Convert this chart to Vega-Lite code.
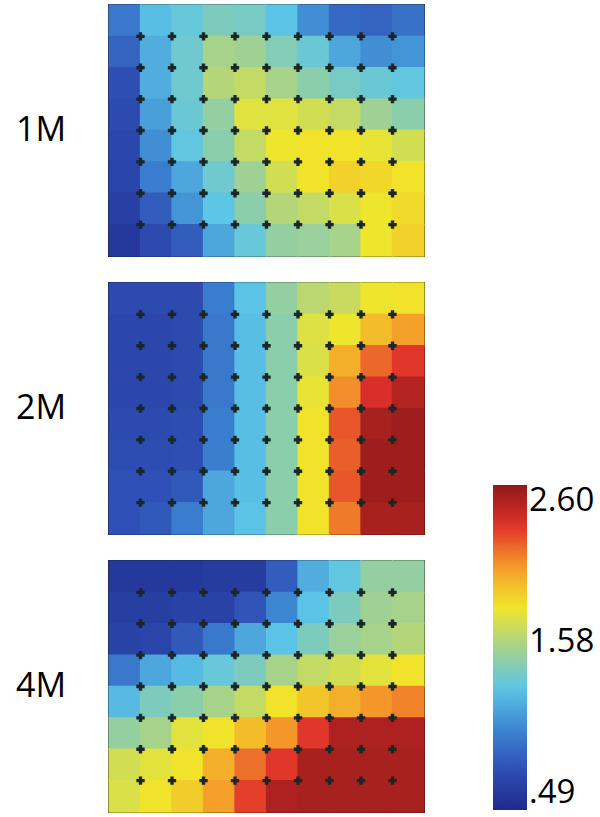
{
"$schema": "https://vega.github.io/schema/vega-lite/v6.json",
"padding": {"left": 15, "top": 3, "right": 0, "bottom": 0},
"background": "white",
"data": {"values": [
{"p":"1M","r":0,"c":0,"v":0.95},{"p":"1M","r":0,"c":1,"v":1.25},{"p":"1M","r":0,"c":2,"v":1.32},{"p":"1M","r":0,"c":3,"v":1.40},{"p":"1M","r":0,"c":4,"v":1.38},{"p":"1M","r":0,"c":5,"v":1.27},{"p":"1M","r":0,"c":6,"v":1.05},{"p":"1M","r":0,"c":7,"v":0.88},{"p":"1M","r":0,"c":8,"v":0.85},{"p":"1M","r":0,"c":9,"v":0.92},
{"p":"1M","r":1,"c":0,"v":0.85},{"p":"1M","r":1,"c":1,"v":1.18},{"p":"1M","r":1,"c":2,"v":1.35},{"p":"1M","r":1,"c":3,"v":1.55},{"p":"1M","r":1,"c":4,"v":1.52},{"p":"1M","r":1,"c":5,"v":1.42},{"p":"1M","r":1,"c":6,"v":1.33},{"p":"1M","r":1,"c":7,"v":1.15},{"p":"1M","r":1,"c":8,"v":1.05},{"p":"1M","r":1,"c":9,"v":1.08},
{"p":"1M","r":2,"c":0,"v":0.75},{"p":"1M","r":2,"c":1,"v":1.18},{"p":"1M","r":2,"c":2,"v":1.35},{"p":"1M","r":2,"c":3,"v":1.60},{"p":"1M","r":2,"c":4,"v":1.65},{"p":"1M","r":2,"c":5,"v":1.55},{"p":"1M","r":2,"c":6,"v":1.45},{"p":"1M","r":2,"c":7,"v":1.38},{"p":"1M","r":2,"c":8,"v":1.33},{"p":"1M","r":2,"c":9,"v":1.30},
{"p":"1M","r":3,"c":0,"v":0.72},{"p":"1M","r":3,"c":1,"v":1.12},{"p":"1M","r":3,"c":2,"v":1.33},{"p":"1M","r":3,"c":3,"v":1.48},{"p":"1M","r":3,"c":4,"v":1.75},{"p":"1M","r":3,"c":5,"v":1.75},{"p":"1M","r":3,"c":6,"v":1.70},{"p":"1M","r":3,"c":7,"v":1.65},{"p":"1M","r":3,"c":8,"v":1.52},{"p":"1M","r":3,"c":9,"v":1.45},
{"p":"1M","r":4,"c":0,"v":0.70},{"p":"1M","r":4,"c":1,"v":1.05},{"p":"1M","r":4,"c":2,"v":1.30},{"p":"1M","r":4,"c":3,"v":1.45},{"p":"1M","r":4,"c":4,"v":1.65},{"p":"1M","r":4,"c":5,"v":1.80},{"p":"1M","r":4,"c":6,"v":1.82},{"p":"1M","r":4,"c":7,"v":1.82},{"p":"1M","r":4,"c":8,"v":1.78},{"p":"1M","r":4,"c":9,"v":1.70},
{"p":"1M","r":5,"c":0,"v":0.68},{"p":"1M","r":5,"c":1,"v":0.97},{"p":"1M","r":5,"c":2,"v":1.15},{"p":"1M","r":5,"c":3,"v":1.35},{"p":"1M","r":5,"c":4,"v":1.52},{"p":"1M","r":5,"c":5,"v":1.70},{"p":"1M","r":5,"c":6,"v":1.82},{"p":"1M","r":5,"c":7,"v":1.88},{"p":"1M","r":5,"c":8,"v":1.86},{"p":"1M","r":5,"c":9,"v":1.82},
{"p":"1M","r":6,"c":0,"v":0.65},{"p":"1M","r":6,"c":1,"v":0.82},{"p":"1M","r":6,"c":2,"v":1.08},{"p":"1M","r":6,"c":3,"v":1.28},{"p":"1M","r":6,"c":4,"v":1.45},{"p":"1M","r":6,"c":5,"v":1.60},{"p":"1M","r":6,"c":6,"v":1.65},{"p":"1M","r":6,"c":7,"v":1.73},{"p":"1M","r":6,"c":8,"v":1.80},{"p":"1M","r":6,"c":9,"v":1.85},
{"p":"1M","r":7,"c":0,"v":0.60},{"p":"1M","r":7,"c":1,"v":0.72},{"p":"1M","r":7,"c":2,"v":0.82},{"p":"1M","r":7,"c":3,"v":1.15},{"p":"1M","r":7,"c":4,"v":1.32},{"p":"1M","r":7,"c":5,"v":1.48},{"p":"1M","r":7,"c":6,"v":1.50},{"p":"1M","r":7,"c":7,"v":1.55},{"p":"1M","r":7,"c":8,"v":1.80},{"p":"1M","r":7,"c":9,"v":1.88},
{"p":"2M","r":0,"c":0,"v":0.72},{"p":"2M","r":0,"c":1,"v":0.72},{"p":"2M","r":0,"c":2,"v":0.72},{"p":"2M","r":0,"c":3,"v":0.97},{"p":"2M","r":0,"c":4,"v":1.27},{"p":"2M","r":0,"c":5,"v":1.48},{"p":"2M","r":0,"c":6,"v":1.62},{"p":"2M","r":0,"c":7,"v":1.67},{"p":"2M","r":0,"c":8,"v":1.80},{"p":"2M","r":0,"c":9,"v":1.82},
{"p":"2M","r":1,"c":0,"v":0.70},{"p":"2M","r":1,"c":1,"v":0.70},{"p":"2M","r":1,"c":2,"v":0.72},{"p":"2M","r":1,"c":3,"v":0.95},{"p":"2M","r":1,"c":4,"v":1.25},{"p":"2M","r":1,"c":5,"v":1.45},{"p":"2M","r":1,"c":6,"v":1.74},{"p":"2M","r":1,"c":7,"v":1.80},{"p":"2M","r":1,"c":8,"v":1.95},{"p":"2M","r":1,"c":9,"v":2.05},
{"p":"2M","r":2,"c":0,"v":0.70},{"p":"2M","r":2,"c":1,"v":0.70},{"p":"2M","r":2,"c":2,"v":0.72},{"p":"2M","r":2,"c":3,"v":0.95},{"p":"2M","r":2,"c":4,"v":1.25},{"p":"2M","r":2,"c":5,"v":1.45},{"p":"2M","r":2,"c":6,"v":1.73},{"p":"2M","r":2,"c":7,"v":2.00},{"p":"2M","r":2,"c":8,"v":2.20},{"p":"2M","r":2,"c":9,"v":2.32},
{"p":"2M","r":3,"c":0,"v":0.70},{"p":"2M","r":3,"c":1,"v":0.70},{"p":"2M","r":3,"c":2,"v":0.72},{"p":"2M","r":3,"c":3,"v":0.95},{"p":"2M","r":3,"c":4,"v":1.25},{"p":"2M","r":3,"c":5,"v":1.45},{"p":"2M","r":3,"c":6,"v":1.78},{"p":"2M","r":3,"c":7,"v":2.10},{"p":"2M","r":3,"c":8,"v":2.36},{"p":"2M","r":3,"c":9,"v":2.48},
{"p":"2M","r":4,"c":0,"v":0.72},{"p":"2M","r":4,"c":1,"v":0.72},{"p":"2M","r":4,"c":2,"v":0.74},{"p":"2M","r":4,"c":3,"v":0.97},{"p":"2M","r":4,"c":4,"v":1.25},{"p":"2M","r":4,"c":5,"v":1.45},{"p":"2M","r":4,"c":6,"v":1.82},{"p":"2M","r":4,"c":7,"v":2.24},{"p":"2M","r":4,"c":8,"v":2.52},{"p":"2M","r":4,"c":9,"v":2.55},
{"p":"2M","r":5,"c":0,"v":0.74},{"p":"2M","r":5,"c":1,"v":0.74},{"p":"2M","r":5,"c":2,"v":0.75},{"p":"2M","r":5,"c":3,"v":0.98},{"p":"2M","r":5,"c":4,"v":1.25},{"p":"2M","r":5,"c":5,"v":1.45},{"p":"2M","r":5,"c":6,"v":1.82},{"p":"2M","r":5,"c":7,"v":2.22},{"p":"2M","r":5,"c":8,"v":2.55},{"p":"2M","r":5,"c":9,"v":2.55},
{"p":"2M","r":6,"c":0,"v":0.76},{"p":"2M","r":6,"c":1,"v":0.76},{"p":"2M","r":6,"c":2,"v":0.80},{"p":"2M","r":6,"c":3,"v":1.15},{"p":"2M","r":6,"c":4,"v":1.25},{"p":"2M","r":6,"c":5,"v":1.45},{"p":"2M","r":6,"c":6,"v":1.82},{"p":"2M","r":6,"c":7,"v":2.24},{"p":"2M","r":6,"c":8,"v":2.55},{"p":"2M","r":6,"c":9,"v":2.55},
{"p":"2M","r":7,"c":0,"v":0.76},{"p":"2M","r":7,"c":1,"v":0.80},{"p":"2M","r":7,"c":2,"v":0.97},{"p":"2M","r":7,"c":3,"v":1.15},{"p":"2M","r":7,"c":4,"v":1.27},{"p":"2M","r":7,"c":5,"v":1.45},{"p":"2M","r":7,"c":6,"v":1.82},{"p":"2M","r":7,"c":7,"v":2.15},{"p":"2M","r":7,"c":8,"v":2.52},{"p":"2M","r":7,"c":9,"v":2.52},
{"p":"4M","r":0,"c":0,"v":0.60},{"p":"4M","r":0,"c":1,"v":0.60},{"p":"4M","r":0,"c":2,"v":0.60},{"p":"4M","r":0,"c":3,"v":0.62},{"p":"4M","r":0,"c":4,"v":0.62},{"p":"4M","r":0,"c":5,"v":0.82},{"p":"4M","r":0,"c":6,"v":1.18},{"p":"4M","r":0,"c":7,"v":1.30},{"p":"4M","r":0,"c":8,"v":1.48},{"p":"4M","r":0,"c":9,"v":1.48},
{"p":"4M","r":1,"c":0,"v":0.64},{"p":"4M","r":1,"c":1,"v":0.64},{"p":"4M","r":1,"c":2,"v":0.66},{"p":"4M","r":1,"c":3,"v":0.66},{"p":"4M","r":1,"c":4,"v":0.78},{"p":"4M","r":1,"c":5,"v":1.02},{"p":"4M","r":1,"c":6,"v":1.27},{"p":"4M","r":1,"c":7,"v":1.40},{"p":"4M","r":1,"c":8,"v":1.52},{"p":"4M","r":1,"c":9,"v":1.55},
{"p":"4M","r":2,"c":0,"v":0.66},{"p":"4M","r":2,"c":1,"v":0.68},{"p":"4M","r":2,"c":2,"v":0.80},{"p":"4M","r":2,"c":3,"v":0.95},{"p":"4M","r":2,"c":4,"v":1.15},{"p":"4M","r":2,"c":5,"v":1.27},{"p":"4M","r":2,"c":6,"v":1.40},{"p":"4M","r":2,"c":7,"v":1.50},{"p":"4M","r":2,"c":8,"v":1.55},{"p":"4M","r":2,"c":9,"v":1.60},
{"p":"4M","r":3,"c":0,"v":0.95},{"p":"4M","r":3,"c":1,"v":1.15},{"p":"4M","r":3,"c":2,"v":1.23},{"p":"4M","r":3,"c":3,"v":1.32},{"p":"4M","r":3,"c":4,"v":1.40},{"p":"4M","r":3,"c":5,"v":1.55},{"p":"4M","r":3,"c":6,"v":1.65},{"p":"4M","r":3,"c":7,"v":1.70},{"p":"4M","r":3,"c":8,"v":1.76},{"p":"4M","r":3,"c":9,"v":1.82},
{"p":"4M","r":4,"c":0,"v":1.23},{"p":"4M","r":4,"c":1,"v":1.40},{"p":"4M","r":4,"c":2,"v":1.45},{"p":"4M","r":4,"c":3,"v":1.55},{"p":"4M","r":4,"c":4,"v":1.65},{"p":"4M","r":4,"c":5,"v":1.82},{"p":"4M","r":4,"c":6,"v":1.92},{"p":"4M","r":4,"c":7,"v":2.00},{"p":"4M","r":4,"c":8,"v":2.08},{"p":"4M","r":4,"c":9,"v":2.13},
{"p":"4M","r":5,"c":0,"v":1.48},{"p":"4M","r":5,"c":1,"v":1.55},{"p":"4M","r":5,"c":2,"v":1.76},{"p":"4M","r":5,"c":3,"v":1.82},{"p":"4M","r":5,"c":4,"v":1.95},{"p":"4M","r":5,"c":5,"v":2.08},{"p":"4M","r":5,"c":6,"v":2.32},{"p":"4M","r":5,"c":7,"v":2.50},{"p":"4M","r":5,"c":8,"v":2.50},{"p":"4M","r":5,"c":9,"v":2.50},
{"p":"4M","r":6,"c":0,"v":1.70},{"p":"4M","r":6,"c":1,"v":1.76},{"p":"4M","r":6,"c":2,"v":1.82},{"p":"4M","r":6,"c":3,"v":2.00},{"p":"4M","r":6,"c":4,"v":2.18},{"p":"4M","r":6,"c":5,"v":2.32},{"p":"4M","r":6,"c":6,"v":2.52},{"p":"4M","r":6,"c":7,"v":2.52},{"p":"4M","r":6,"c":8,"v":2.52},{"p":"4M","r":6,"c":9,"v":2.52},
{"p":"4M","r":7,"c":0,"v":1.73},{"p":"4M","r":7,"c":1,"v":1.82},{"p":"4M","r":7,"c":2,"v":1.90},{"p":"4M","r":7,"c":3,"v":2.05},{"p":"4M","r":7,"c":4,"v":2.30},{"p":"4M","r":7,"c":5,"v":2.50},{"p":"4M","r":7,"c":6,"v":2.52},{"p":"4M","r":7,"c":7,"v":2.52},{"p":"4M","r":7,"c":8,"v":2.52},{"p":"4M","r":7,"c":9,"v":2.52}
]},
"facet": {"row": {"field": "p", "type": "nominal", "sort": ["1M", "2M", "4M"], "header": {"title": null, "labelAngle": 0, "labelOrient": "left", "labelFontSize": 34, "labelFont": "Open Sans", "labelColor": "black", "labelPadding": -9}}},
"spacing": 23,
"spec": {
  "width": 315,
  "height": 251,
  "layer": [
    {"mark": {"type": "rect", "width": {"band": 1.04}, "height": {"band": 1.04}},
     "encoding": {
       "x": {"field": "c", "type": "ordinal", "axis": null, "scale": {"type": "band", "paddingInner": 0, "paddingOuter": 0}},
       "y": {"field": "r", "type": "ordinal", "axis": null, "scale": {"type": "band", "paddingInner": 0, "paddingOuter": 0}},
       "color": {"field": "v", "type": "quantitative",
         "scale": {"domain": [0.49, 0.75375, 1.0175, 1.28125, 1.545, 1.80875, 2.0725, 2.33625, 2.60],
                   "range": ["#1e2a8a", "#2f4fb5", "#3d86d2", "#5cc6e6", "#a6d28c", "#f0e62a", "#f59a2a", "#e0302a", "#8e1a1a"],
                   "interpolate": "rgb", "clamp": true},
         "legend": {"type": "gradient", "orient": "none", "legendX": 384, "legendY": 480, "direction": "vertical", "gradientLength": 325, "gradientThickness": 34, "gradientStrokeWidth": 0, "title": null, "values": [0.49, 1.58, 2.60], "labelExpr": "datum.value < 1 ? substring(format(datum.value, '.2f'), 1) : format(datum.value, '.2f')", "labelFontSize": 33, "labelFont": "Open Sans", "labelColor": "black", "labelOffset": 2}}
     }},
    {"transform": [{"filter": "datum.c > 0 && datum.r > 0"}],
     "mark": {"type": "point", "shape": "cross", "filled": true, "size": 70, "color": "#1b2626", "opacity": 1},
     "encoding": {
       "x": {"field": "c", "type": "ordinal", "bandPosition": 0},
       "y": {"field": "r", "type": "ordinal", "bandPosition": 0}
     }}
  ]
},
"config": {"view": {"stroke": "#111", "strokeWidth": 2}}
}
